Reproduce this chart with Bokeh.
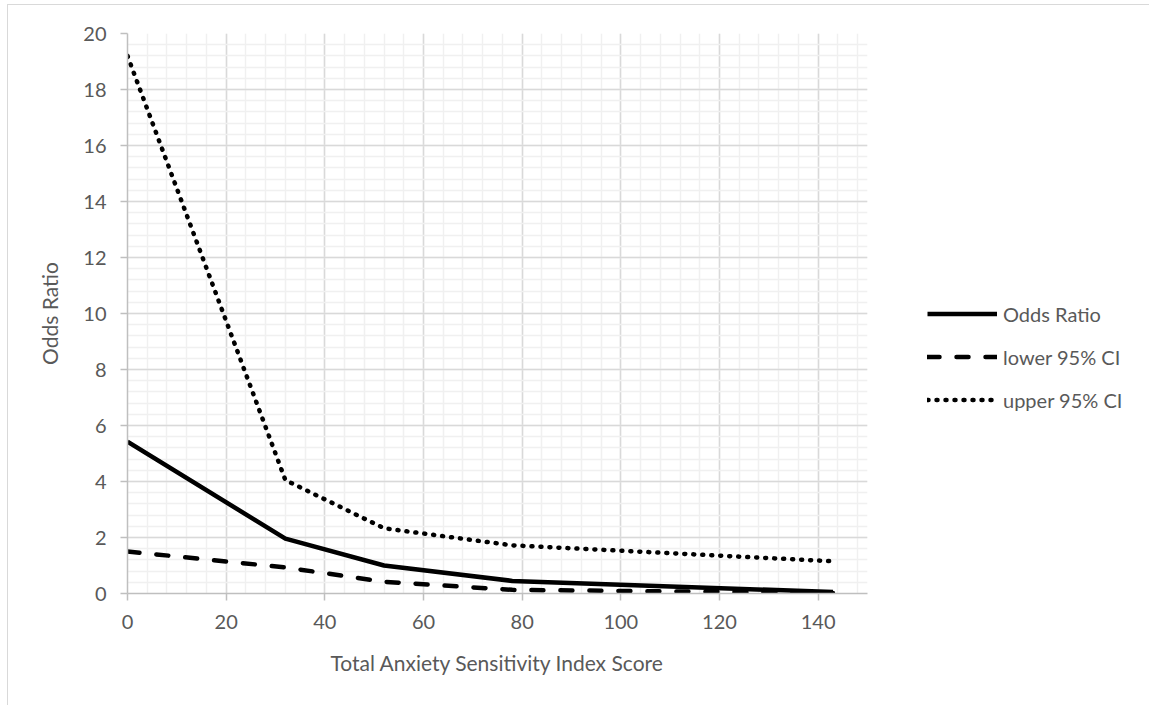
from bokeh.plotting import figure
from bokeh.models import FixedTicker, Legend, LegendItem
from bokeh.layouts import row
from bokeh.embed import file_html
from bokeh.resources import INLINE

# Data
x_scores = [0, 32, 52, 78, 143]
odds_ratio = [5.42, 1.96, 1.0, 0.45, 0.05]
lower_ci = [1.5, 0.93, 0.42, 0.13, 0.02]
upper_ci = [19.2, 4.05, 2.33, 1.72, 1.15]

series_labels = ["Odds Ratio", "lower 95% CI", "upper 95% CI"]

x_ticks = list(range(0, 141, 20))
x_minor = list(range(0, 149, 4))
y_ticks = list(range(0, 21, 2))
y_minor = [round(i * 0.4, 1) for i in range(0, 51)]

FONT = "Lato"
GRAY = "#595959"
H = 700

STYLES = [dict(line_color="black", line_width=4.5, line_join="round"),
          dict(line_color="black", line_width=4.5, line_dash="12 17",
               line_cap="round", line_join="round"),
          dict(line_color="black", line_width=4.5, line_dash="1 8",
               line_cap="round", line_join="round")]

p = figure(width=873, height=H, output_backend="svg", toolbar_location=None,
           x_range=(0, 150), y_range=(0, 20),
           min_border_left=119, min_border_right=14,
           min_border_top=28, min_border_bottom=H - 588)
p.outline_line_color = None
p.background_fill_color = "white"
p.border_fill_color = "white"

p.xaxis.ticker = FixedTicker(ticks=x_ticks, minor_ticks=x_minor)
p.yaxis.ticker = FixedTicker(ticks=y_ticks, minor_ticks=y_minor)

for ax in (p.xaxis, p.yaxis):
    ax.axis_line_color = "#bfbfbf"
    ax.axis_line_width = 1.5
    ax.major_tick_line_color = "#bfbfbf"
    ax.major_tick_line_width = 1.5
    ax.major_tick_out = 7
    ax.major_tick_in = 0
    ax.minor_tick_line_color = None
    ax.major_label_text_font = FONT
    ax.major_label_text_font_size = "20px"
    ax.major_label_text_color = GRAY
    ax.axis_label_text_font = FONT
    ax.axis_label_text_font_size = "21px"
    ax.axis_label_text_font_style = "normal"
    ax.axis_label_text_color = GRAY
    ax.major_label_standoff = 14

p.xaxis.axis_label = "Total Anxiety Sensitivity Index Score"
p.yaxis.axis_label = "Odds Ratio"
p.xaxis.axis_label_standoff = 18
p.yaxis.axis_label_standoff = 18

p.xgrid.grid_line_color = "#d9d9d9"
p.ygrid.grid_line_color = "#d9d9d9"
p.xgrid.grid_line_width = 1.5
p.ygrid.grid_line_width = 1.5
p.xgrid.minor_grid_line_color = "#f0f0f0"
p.ygrid.minor_grid_line_color = "#f0f0f0"
p.xgrid.minor_grid_line_width = 1.5
p.ygrid.minor_grid_line_width = 1.5

for ys, st in zip([odds_ratio, lower_ci, upper_ci], STYLES):
    p.line(x_scores, ys, **st)

# Legend panel to the right of the plot area (placeholder renderers only carry the styles)
q = figure(width=268, height=H, output_backend="svg", toolbar_location=None,
           x_axis_type=None, y_axis_type=None, min_border=0,
           x_range=(0, 1), y_range=(0, 1))
q.outline_line_color = None
q.background_fill_color = "white"
q.border_fill_color = "white"
nan = float("nan")
legend_renderers = [q.line([nan], [nan], **st) for st in STYLES]

legend = Legend(items=[LegendItem(label=lab, renderers=[r])
                       for lab, r in zip(series_labels, legend_renderers)],
                location=(46, 172))
legend.padding = 0
legend.margin = 0
legend.spacing = 0
legend.border_line_color = None
legend.background_fill_alpha = 0
legend.glyph_width = 70
legend.glyph_height = 43
legend.label_height = 43
legend.label_standoff = 6
legend.label_text_font = FONT
legend.label_text_font_size = "20px"
legend.label_text_color = GRAY
q.add_layout(legend, "center")

layout = row(p, q, spacing=0)
layout.styles = {"border-left": "1px solid #d9d9d9", "border-top": "1px solid #d9d9d9",
                 "margin-left": "7px", "margin-top": "4px"}

open("out.html", "w").write(file_html(layout, INLINE))
